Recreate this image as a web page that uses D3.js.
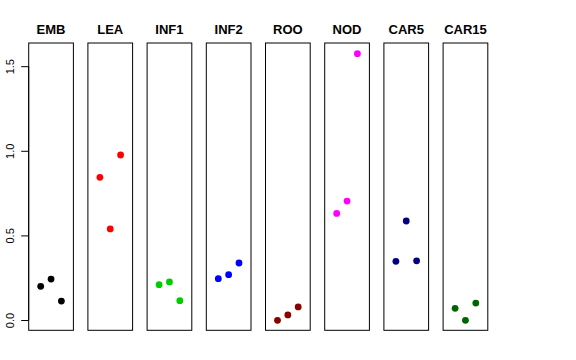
<!DOCTYPE html>
<html><head><meta charset="utf-8">
<script src="https://cdn.jsdelivr.net/npm/d3@7"></script>
<style>body{margin:0;background:#fff}svg{display:block}</style>
</head><body><svg id="c" width="576" height="360"></svg>
<script>
const categories = ["EMB","LEA","INF1","INF2","ROO","NOD","CAR5","CAR15"];
const colors = ["#000000","#FF0000","#00CD00","#0000FF","#8B0000","#FF00FF","#000080","#006400"];
const values = [
  [0.199, 0.242, 0.112],
  [0.843, 0.538, 0.975],
  [0.209, 0.225, 0.114],
  [0.244, 0.268, 0.337],
  [-0.002, 0.030, 0.077],
  [0.630, 0.703, 1.574],
  [0.347, 0.585, 0.350],
  [0.069, -0.002, 0.100]
];
const yTicks = [0.0, 0.5, 1.0, 1.5];

const svg = d3.select("#c");
const band = d3.scaleBand().domain(categories).range([28.7, 487.8]).paddingInner(0.245).paddingOuter(0);
const y = d3.scaleLinear().domain([-0.065, 1.637]).range([331, 43]);
const xi = d3.scaleLinear().domain([-0.16, 4.16]).range([0, band.bandwidth()]);

categories.forEach((cat, i) => {
  const g = svg.append("g").attr("transform", `translate(${band(cat)},0)`);
  g.append("rect").attr("x", 0).attr("y", 43).attr("width", band.bandwidth()).attr("height", 287.3)
    .attr("fill", "none").attr("stroke", "#000").attr("stroke-width", 1);
  g.append("text").attr("x", band.bandwidth()/2).attr("y", 34).attr("text-anchor", "middle")
    .attr("font-family", "Liberation Sans, Arial, sans-serif").attr("font-weight", "bold").attr("font-size", 13)
    .text(cat);
  g.selectAll("circle").data(values[i]).join("circle")
    .attr("cx", (d, j) => xi(j + 1)).attr("cy", d => y(d)).attr("r", 3.4).attr("fill", colors[i]);
});

const axis = d3.axisLeft(y).tickValues(yTicks).tickFormat(d3.format(".1f")).tickSize(7.5).tickPadding(0);
const ax = svg.append("g").attr("transform", "translate(28.7,0)").call(axis);
ax.select(".domain").attr("d", `M0,${y(0)}V${y(1.5)}`).attr("stroke", "#000");
ax.selectAll(".tick line").attr("stroke", "#000");
ax.selectAll(".tick text").attr("font-family", "Liberation Sans, Arial, sans-serif").attr("font-size", 11)
  .attr("fill", "#000").attr("text-anchor", "middle").attr("dy", null).attr("x", null)
  .attr("transform", "translate(-14.3,0) rotate(-90)");
</script></body></html>
